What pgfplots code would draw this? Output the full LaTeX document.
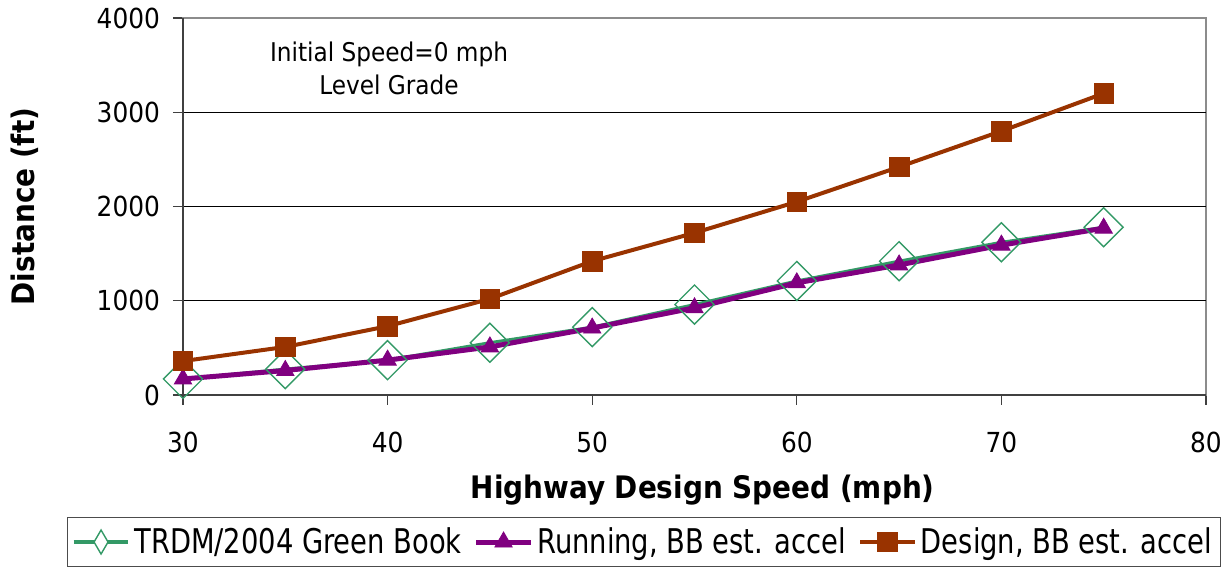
\documentclass[border=0pt]{standalone}
\usepackage{fontspec}
\setmainfont{DejaVu Sans Condensed}
\usepackage{graphicx}
\usepackage{pgfplots}
\pgfplotsset{compat=1.18}
\usetikzlibrary{calc}
\definecolor{tgreen}{RGB}{51,153,102}
\definecolor{rpurple}{RGB}{128,0,128}
\definecolor{dbrown}{RGB}{153,51,0}
\newcommand{\legtext}[1]{\scalebox{1}[1.12]{#1}}
\begin{document}
\begin{tikzpicture}
\begin{axis}[
  name=ax,
  scale only axis,
  width=511.5pt, height=188.5pt,
  xmin=30, xmax=80, ymin=0, ymax=4000,
  xtick={30,40,...,80}, ytick={0,1000,...,4000},
  tick pos=left, tick align=outside,
  major tick length=5pt,
  tick style={black!75, line width=0.6pt},
  axis line style={black!45, line width=0.8pt},
  extra y ticks={1000,2000,3000},
  extra y tick labels={},
  extra y tick style={grid=major, major tick length=0pt},
  grid style={black, line width=0.6pt},
  /pgf/number format/assume math mode=true,
  /pgf/number format/set thousands separator={},
  ticklabel style={font=\fontsize{13.8}{16}\selectfont},
  yticklabel style={xshift=-3pt},
  xticklabel style={yshift=-10pt},
  xlabel={Highway Design Speed (mph)},
  ylabel={Distance (ft)},
  label style={font=\fontsize{15.5}{18}\selectfont\bfseries},
  xlabel style={at={(rel axis cs:0.508,-0.252)}, anchor=center},
  ylabel style={at={(rel axis cs:-0.1545,0.5)}, anchor=center},
  legend style={at={(0.4506,-0.3236)}, anchor=north, legend columns=3,
    draw=black!70, line width=0.6pt, font=\fontsize{15.2}{18}\selectfont,
    inner xsep=2pt, inner ysep=3pt,
    /tikz/every even column/.append style={column sep=4pt}},
  legend cell align=left,
  legend image code/.code={%
    \draw[mark repeat=2, mark phase=2] plot coordinates {(0cm,0cm) (0.48cm,0cm) (0.96cm,0cm)};},
  clip=false,
]
% TRDM / 2004 Green Book
\addplot[tgreen, line width=1.5pt, mark=square, mark size=6.9pt,
  mark options={rotate=45, line width=0.7pt, fill=none},
  legend image code/.code={%
    \draw[tgreen, line width=2pt] (0cm,0cm) -- (0.96cm,0cm);
    \draw[tgreen, line width=0.7pt, fill=white]
      (0.48cm,6pt) -- (0.48cm+3.5pt,0pt) -- (0.48cm,-6pt) -- (0.48cm-3.5pt,0pt) -- cycle;}]
  coordinates {(30,170) (35,275) (40,370) (45,555) (50,720) (55,960)
               (60,1210) (65,1420) (70,1620) (75,1780)};
\addlegendentry{\legtext{TRDM/2004 Green Book}}
% Running speed, BB estimated acceleration
\addplot[rpurple, line width=2.5pt, mark=triangle*, mark size=5pt,
  mark options={line width=0.4pt}]
  coordinates {(30,170) (35,260) (40,370) (45,510) (50,710) (55,925)
               (60,1190) (65,1380) (70,1590) (75,1770)};
\addlegendentry{\legtext{Running, BB est. accel}}
% Design speed, BB estimated acceleration
\addplot[dbrown, line width=2pt, mark=square*, mark size=4.9pt,
  mark options={line width=0.4pt}]
  coordinates {(30,360) (35,510) (40,730) (45,1020) (50,1420) (55,1720)
               (60,2050) (65,2420) (70,2800) (75,3200)};
\addlegendentry{\legtext{Design, BB est. accel}}
\node[align=center, font=\fontsize{12.9}{16.5}\selectfont]
  at (rel axis cs:0.2014,0.867) {Initial Speed=0 mph\\Level Grade};
\draw[black!75, line width=0.8pt] (rel axis cs:0,1) -- (rel axis cs:0,0) -- (rel axis cs:1,0);
\end{axis}
\pgfresetboundingbox
\path[use as bounding box] ($(ax.south west)+(-91.5pt,-86pt)$) rectangle ($(ax.north east)+(12.5pt,9pt)$);
\end{tikzpicture}
\end{document}
